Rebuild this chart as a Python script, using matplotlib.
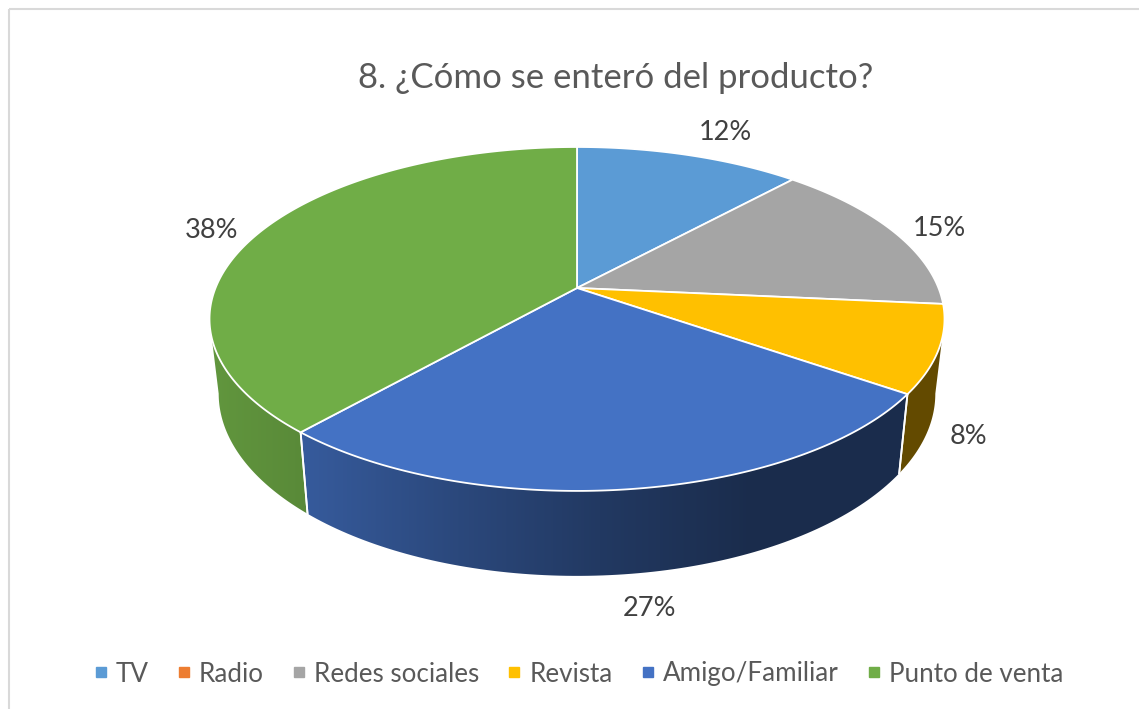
import numpy as np
import matplotlib
matplotlib.use("Agg")
import matplotlib.pyplot as plt
from matplotlib.lines import Line2D
from matplotlib.patches import Polygon, Rectangle

plt.rcParams['font.family'] = ['Lato', 'DejaVu Sans']

# data
categories = ["TV", "Radio", "Redes sociales", "Revista", "Amigo/Familiar", "Punto de venta"]
values = [11.8, 0, 14.7, 8.2, 26.8, 38.5]
colors = ["#5B9BD5", "#ED7D31", "#A5A5A5", "#FFC000", "#4472C4", "#70AD47"]
label_pos = {"TV": (725, 133), "Redes sociales": (939, 229), "Revista": (968, 436),
             "Amigo/Familiar": (650, 608), "Punto de venta": (212, 230)}

W, H = 1139, 709
CX, CY = 577, 288  # where the slices meet
K = 0.18  # perspective
A, B = 361.5, 166.4

# how dark the side gets, by x position
shade_x = [210, 300, 450, 600, 750, 950]
shade_f = [0.87, 0.80, 0.64, 0.50, 0.39, 0.39]


def top_rim(a):
    # a = degrees clockwise from 12 o'clock
    t = np.radians(a)
    u, v = np.sin(t), -np.cos(t)
    w = 1 - K * v
    return CX + A * u / w, CY + B * v / w


def bottom_rim(a):
    x, y = top_rim(a)
    return CX + 0.975 * (x - CX), 1.06 * y + 55.5


fig = plt.figure(figsize=(W / 100, H / 100), dpi=100)
ax = fig.add_axes([0, 0, 1, 1])

# chart border
ax.add_patch(Rectangle((8.5, 8.5), W + 20, H + 20, fill=False, ec="#D9D9D9", lw=1.5))

edges = np.cumsum([0] + values) * 3.6

# sides first, only the part facing us
vis_a, vis_b = 100.4, 259.6
for i in range(len(values)):
    a0, a1 = max(edges[i], vis_a), min(edges[i + 1], vis_b)
    if a1 <= a0:
        continue
    angs = np.linspace(a0, a1, 100)
    tx, ty = top_rim(angs)
    bx, by = bottom_rim(angs)
    pts = np.column_stack([np.r_[tx, bx[::-1]], np.r_[ty, by[::-1]]])
    poly = Polygon(pts, closed=True, fc="none", ec="none", transform=ax.transData)
    ax.add_patch(poly)
    xs = np.arange(int(pts[:, 0].min()) - 2, int(pts[:, 0].max()) + 3)
    f = np.interp(xs, shade_x, shade_f)
    rgb = np.array(matplotlib.colors.to_rgb(colors[i]))
    img = (f[:, None] * rgb)[None, :, :]
    im = ax.imshow(img, extent=(xs[0], xs[-1], pts[:, 1].max() + 2, pts[:, 1].min() - 2),
                   aspect="auto", zorder=2, interpolation="bilinear")
    im.set_clip_path(poly)
    # white line where two side pieces meet
    for a in (edges[i], edges[i + 1]):
        if vis_a < a < vis_b:
            p, q = top_rim(a), bottom_rim(a)
            ax.plot([p[0], q[0]], [p[1], q[1]], color="white", lw=1.3, zorder=3)

# top slices
for i in range(len(values)):
    if values[i] == 0:
        continue
    angs = np.linspace(edges[i], edges[i + 1], 200)
    x, y = top_rim(angs)
    pts = np.column_stack([np.r_[CX, x], np.r_[CY, y]])
    ax.add_patch(Polygon(pts, closed=True, fc=colors[i], ec="white", lw=1.3, zorder=4,
                         joinstyle="round"))

# title
ax.text(616, 78, "8. ¿Cómo se enteró del producto?", ha="center", va="center",
        fontsize=25, color="#595959", zorder=6)

# percent labels
for c, v in zip(categories, values):
    if c in label_pos:
        ax.text(label_pos[c][0], label_pos[c][1], "%.0f%%" % v, ha="center", va="center",
                fontsize=19.5, color="#404040", zorder=6)

handles = [Line2D([], [], ls="none", marker="s", ms=7.5, mfc=c, mec=c) for c in colors]
ax.legend(handles, categories, loc="center", bbox_to_anchor=(578 / W, 1 - 674 / H), ncol=6,
          frameon=False, fontsize=18.7, labelcolor="#595959", handlelength=0.6,
          handletextpad=0.28, columnspacing=1.05, borderpad=0)

ax.set_xlim(0, W)
ax.set_ylim(H, 0)
ax.axis("off")
fig.savefig("out.png", dpi=100)
